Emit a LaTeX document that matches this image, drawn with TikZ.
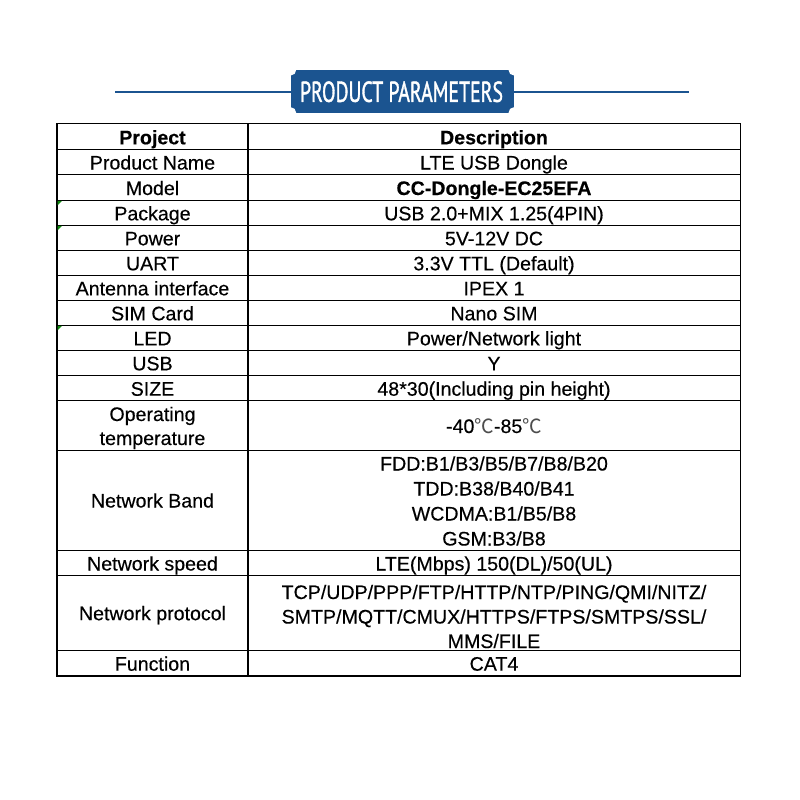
\documentclass[tikz,border=0pt]{standalone}
\usepackage{fontspec}
\setmainfont[FakeBold=0.35,BoldFeatures={FakeBold=0.35}]{Liberation Sans}
\newfontfamily\bannerfont[FakeBold=1.6]{PT Sans}
\newfontfamily\cjkfont{Noto Sans CJK SC}
\definecolor{bannerblue}{HTML}{1B5490}
\definecolor{flaggreen}{HTML}{108A10}
\begin{document}
\begin{tikzpicture}[x=1pt,y=-1pt,
  cell/.style={anchor=base,inner sep=0pt,font=\fontsize{19.6}{24}\selectfont},
  head/.style={cell,font=\fontsize{19.6}{24}\selectfont\bfseries},
  rule/.style={line width=1pt,black},
  frame/.style={line width=1.6pt,black},
  bar/.style={line width=2.7pt,bannerblue},
  flag/.style={fill=flaggreen,draw=none}]
\useasboundingbox (0,0) rectangle (800,800);
% banner
\fill[bannerblue] (290.7,70) rectangle (514,112.7);
\foreach \p in {(290.7,70),(514,70),(290.7,112.7),(514,112.7)}
  \fill[white] \p circle (5.5);
\node[inner sep=0pt,text=white] (banner) at (401.5,91.8)
  {\resizebox{203pt}{20.5pt}{\bannerfont\fontsize{28}{28}\selectfont PRODUCT PARAMETERS}};
\coordinate (barL) at (115,92);
\coordinate (barR) at (689,92);
\coordinate (bannerL) at (290.7,92);
\coordinate (bannerR) at (514,92);
\draw[bar] (barL) -- (bannerL);
\draw[bar] (bannerR) -- (barR);
% table rules
\foreach \y in {149.3,174.3,200.3,225.3,250.3,275.3,300.3,325.3,350.3,375.3,400.7,450.3,550.3,575.7,650.7}
  \draw[rule] (57,\y) -- (740.5,\y);
\draw[frame] (247.7,123.3) -- (247.7,675.7);
\draw[frame] (57,123.3) rectangle (740.5,675.7);
% green flags
\foreach \y in {200.3,225.3,325.3}
  \fill[flag] (57.5,\y+0.5) -- (62,\y+0.5) -- (57.5,\y+5) -- cycle;
% left column
\def\xl{152.5}
\def\xr{494}
\node[head] (l1) at (\xl,144.3) {Project};
\node[cell] (l2) at (\xl,169.5) {Product Name};
\node[cell] (l3) at (\xl,195) {Model};
\node[cell] (l4) at (\xl,220.3) {Package};
\node[cell] (l5) at (\xl,245.3) {Power};
\node[cell] (l6) at (\xl,270.3) {UART};
\node[cell] (l7) at (\xl,295.3) {Antenna interface};
\node[cell] (l8) at (\xl,320.3) {SIM Card};
\node[cell] (l9) at (\xl,345.3) {LED};
\node[cell] (l10) at (\xl,370.3) {USB};
\node[cell] (l11) at (\xl,395.7) {SIZE};
\node[cell] (l12a) at (\xl,421) {Operating};
\node[cell] (l12b) at (\xl,445) {temperature};
\node[cell] (l13) at (\xl,507.5) {Network Band};
\node[cell] (l14) at (\xl,570.5) {Network speed};
\node[cell] (l15) at (\xl,620.2) {Network protocol};
\node[cell] (l16) at (\xl,670.7) {Function};
% right column
\node[head] (r1) at (\xr,144.3) {Description};
\node[cell] (r2) at (\xr,169.5) {LTE USB Dongle};
\node[head] (r3) at (\xr,195) {CC-Dongle-EC25EFA};
\node[cell] (r4) at (\xr,220.3) {USB 2.0+MIX 1.25(4PIN)};
\node[cell] (r5) at (\xr,245.3) {5V-12V DC};
\node[cell] (r6) at (\xr,270.3) {3.3V TTL (Default)};
\node[cell] (r7) at (\xr,295.3) {IPEX 1};
\node[cell] (r8) at (\xr,320.3) {Nano SIM};
\node[cell] (r9) at (\xr,345.3) {Power/Network light};
\node[cell] (r10) at (\xr,370.3) {Y};
\node[cell] (r11) at (\xr,395.7) {48*30(Including pin height)};
\node[cell] (r12) at (\xr,433) {-40{\cjkfont\color{black!70}℃}-85{\cjkfont\color{black!70}℃}};
\node[cell] (r13a) at (\xr,470.5) {FDD:B1/B3/B5/B7/B8/B20};
\node[cell] (r13b) at (\xr,495.5) {TDD:B38/B40/B41};
\node[cell] (r13c) at (\xr,520.5) {WCDMA:B1/B5/B8};
\node[cell] (r13d) at (\xr,545.5) {GSM:B3/B8};
\node[cell] (r14) at (\xr,570.5) {LTE(Mbps) 150(DL)/50(UL)};
\node[cell] (r15a) at (\xr,599) {TCP/UDP/PPP/FTP/HTTP/NTP/PING/QMI/NITZ/};
\node[cell] (r15b) at (\xr,623.5) {SMTP/MQTT/CMUX/HTTPS/FTPS/SMTPS/SSL/};
\node[cell] (r15c) at (\xr,648) {MMS/FILE};
\node[cell] (r16) at (\xr,670.7) {CAT4};
\end{tikzpicture}
\end{document}
